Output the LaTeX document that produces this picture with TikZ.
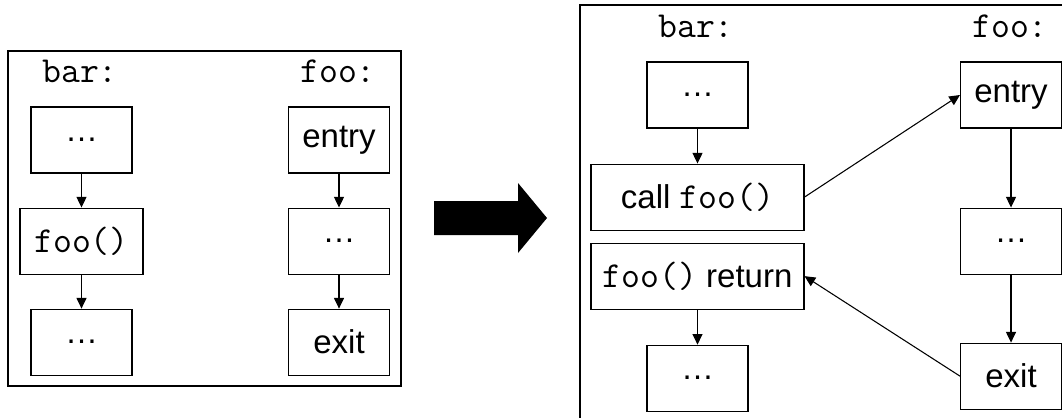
\documentclass[tikz,border=0pt]{standalone}
\usepackage{fontspec}
\setmainfont{Liberation Sans}
\usepackage{tikz}
\usetikzlibrary{arrows.meta, positioning}
\newcommand{\code}[1]{{\fontsize{27.5pt}{29pt}\selectfont\ttfamily #1}}
\tikzstyle{block} = [rectangle, draw=black, line width=0.8pt, minimum width=75.75pt, minimum height=49.5pt, inner sep=2pt, text centered, font=\fontsize{24.75pt}{29pt}\selectfont]
\tikzstyle{wideblock} = [block, minimum width=159.75pt]
\tikzstyle{title} = [inner sep=0pt, anchor=base, font=\fontsize{27.5pt}{29pt}\ttfamily]
\tikzstyle{frame} = [draw=black, line width=1pt]
\tikzstyle{arrow} = [line width=0.8pt, -{Triangle[length=8pt,width=7.5pt]}]

\begin{document}
\begin{tikzpicture}[x=0.75pt, y=-0.75pt]
    \useasboundingbox (0,0) rectangle (1062,417);

    % Before: bar and foo side by side
    \draw [frame] (8,51) rectangle (401,386);
    \node (lbartitle) [title] at (80,83) {bar:};
    \node (lfootitle) [title] at (338,83) {foo:};

    \node (lbartop) [block] at (81.5,140) {…};
    \node (lcall) [block, minimum width=92.25pt, below=25.5pt of lbartop] {\code{foo()}};
    \node (lbarend) [block, below=25.5pt of lcall] {…};

    \node (lentry) [block] at (339,140) {entry};
    \node (lbody) [block, below=25.5pt of lentry] {…};
    \node (lexit) [block, below=25.5pt of lbody] {exit};

    \draw [arrow] (lbartop) -- (lcall);
    \draw [arrow] (lcall) -- (lbarend);
    \draw [arrow] (lentry) -- (lbody);
    \draw [arrow] (lbody) -- (lexit);

    % Transformation arrow
    \fill (434,201) -- (518,201) -- (518,183) -- (547,218) -- (518,253) -- (518,235) -- (434,235) -- cycle;

    % After: call split into call and return
    \draw [frame] (580,5) rectangle (1080,430);
    \node (rbartitle) [title] at (696,38) {bar:};
    \node (rfootitle) [title] at (1010,38) {foo:};

    \node (rbartop) [block] at (697.5,95) {…};
    \node (rcall) [wideblock, below=26.25pt of rbartop] {call \code{foo()}};
    \node (rret) [wideblock, below=9pt of rcall] {\code{foo()} return};
    \node (rbarend) [block, below=26.25pt of rret] {…};

    \node (rentry) [block] at (1011,95) {entry};
    \node (rbody) [block, below=59.25pt of rentry] {…};
    \node (rexit) [block, below=51pt of rbody] {exit};

    \draw [arrow] (rbartop) -- (rcall);
    \draw [arrow] (rret) -- (rbarend);
    \draw [arrow] (rentry) -- (rbody);
    \draw [arrow] (rbody) -- (rexit);

    \draw [arrow] (rcall.east) -- (rentry.west);
    \draw [arrow] (rexit.west) -- (rret.east);

\end{tikzpicture}
\end{document}
